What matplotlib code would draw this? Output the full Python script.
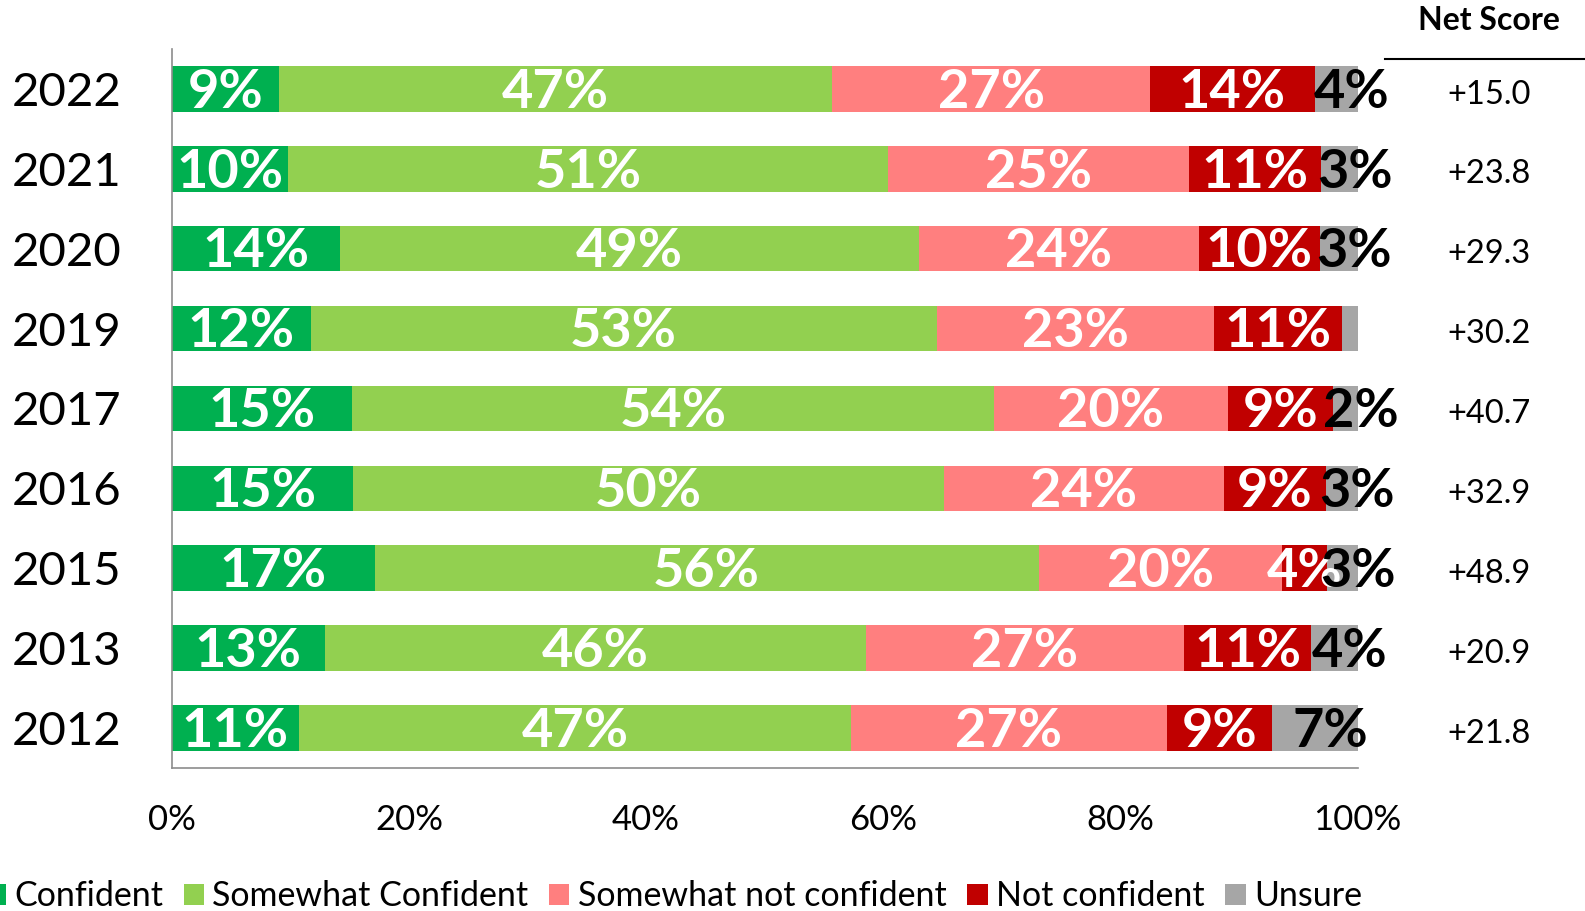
import matplotlib
matplotlib.use("Agg")
import matplotlib.pyplot as plt
import matplotlib.transforms as mtransforms
from matplotlib.patches import Patch
from matplotlib.lines import Line2D

plt.rcParams['font.family'] = ['Lato', 'DejaVu Sans']

years = ["2022", "2021", "2020", "2019", "2017", "2016", "2015", "2013", "2012"]
confident = [9.0, 9.8, 14.2, 11.7, 15.2, 15.3, 17.1, 12.9, 10.7]
somewhat_confident = [46.7, 50.6, 48.8, 52.8, 54.1, 49.8, 56.0, 45.6, 46.6]
somewhat_not = [26.8, 25.4, 23.6, 23.4, 19.8, 23.6, 20.5, 26.9, 26.6]
not_confident = [13.9, 11.1, 10.2, 10.8, 8.8, 8.6, 3.8, 10.7, 8.9]
unsure = [3.6, 3.1, 3.2, 1.3, 2.1, 2.7, 2.6, 3.9, 7.2]
net_scores = ["+15.0", "+23.8", "+29.3", "+30.2", "+40.7", "+32.9", "+48.9", "+20.9", "+21.8"]

series = [
    ("Confident", confident, "#00B050", "white"),
    ("Somewhat Confident", somewhat_confident, "#92D050", "white"),
    ("Somewhat not confident", somewhat_not, "#FF7F7F", "white"),
    ("Not confident", not_confident, "#C00000", "white"),
    ("Unsure", unsure, "#A6A6A6", "black"),
]

fig = plt.figure(figsize=(15.85, 9.11), dpi=100)
ax = fig.add_axes([0.10842, 0.15705, 0.7481, 0.78912])

ypos = list(range(len(years)))
left = [0.0] * len(years)
for name, vals, color, tcol in series:
    ax.barh(ypos, vals, left=left, height=0.57, color=color, label=name)
    for i, v in enumerate(vals):
        if v >= 1.5:
            cx = left[i] + v / 2
            if name == "Unsure":
                cx += 1.3
            ax.text(cx, i + 0.04, f"{v:.0f}%", ha="center", va="center",
                    color=tcol, fontsize=39, fontweight="bold")
    left = [l + v for l, v in zip(left, vals)]

ax.set_xlim(0, 100)
ax.set_ylim(8.5, -0.5)
ax.set_yticks(ypos)
ax.set_yticklabels(years, fontsize=34)
ax.set_xticks([0, 20, 40, 60, 80, 100])
ax.set_xticklabels([f"{t}%" for t in [0, 20, 40, 60, 80, 100]], fontsize=25)
ax.tick_params(axis="y", length=0, pad=36)
ax.tick_params(axis="x", length=0, pad=26)
for s in ["top", "right"]:
    ax.spines[s].set_visible(False)
for s in ["left", "bottom"]:
    ax.spines[s].set_color("#8C8C8C")
    ax.spines[s].set_linewidth(1.2)

# net score column
trans = mtransforms.blended_transform_factory(ax.transAxes, ax.transData)
for i, ns in enumerate(net_scores):
    ax.text(1.111, i + 0.07, ns, transform=trans, ha="center", va="center", fontsize=23.5)
fig.text(0.9394, 0.978, "Net Score", ha="center", va="center",
         fontsize=23, fontweight="bold")
fig.add_artist(Line2D([0.8737, 1.0], [0.9356, 0.9356],
                      color="black", linewidth=1.5, transform=fig.transFigure))

handles = [Patch(facecolor=c, label=n) for n, _, c, _ in series]
fig.legend(handles=handles, loc="center", bbox_to_anchor=(0.425, 0.016), ncol=5,
           frameon=False, fontsize=24.5, handlelength=0.6, handleheight=0.6,
           handletextpad=0.25, columnspacing=0.6)

fig.savefig("out.png", dpi=100)
